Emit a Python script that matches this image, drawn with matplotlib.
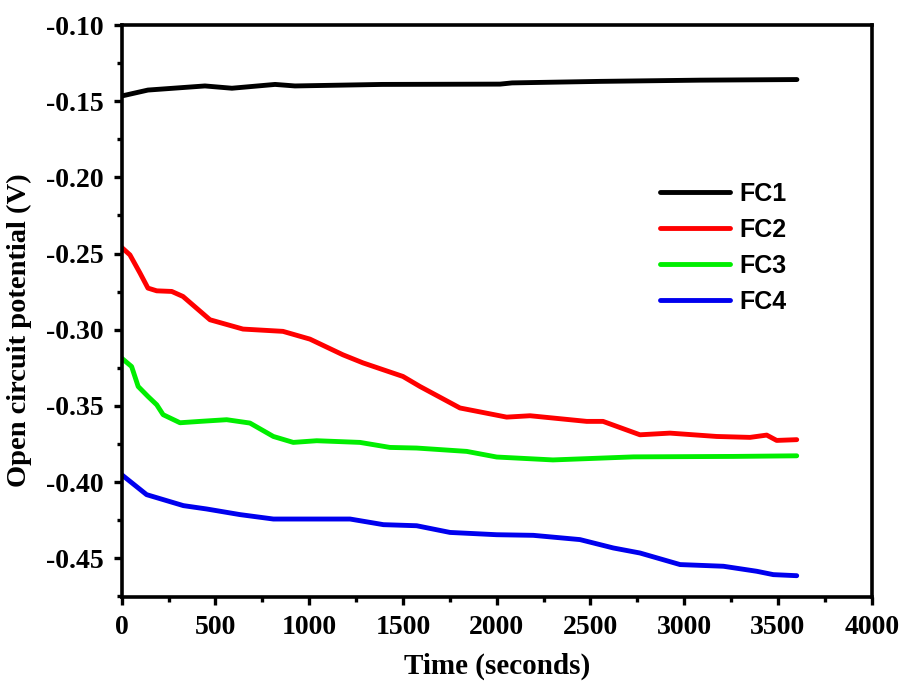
import numpy as np
import matplotlib
matplotlib.use("Agg")
import matplotlib.pyplot as plt
from matplotlib.ticker import MultipleLocator

# data (time in s, potential in V)
t1 = [0, 140, 444, 588, 818, 924, 1389, 2018, 2082, 2551, 3084, 3601]
fc1 = [-0.1466, -0.1427, -0.1400, -0.1415, -0.1390, -0.1400, -0.1390, -0.1388, -0.1380, -0.1370, -0.1362, -0.1358]

t2 = [0, 44, 98, 140, 187, 267, 327, 471, 647, 860, 1004, 1180, 1287, 1500, 1591,
      1804, 2053, 2178, 2480, 2567, 2764, 2924, 3173, 3351, 3440, 3493, 3600]
fc2 = [-0.2460, -0.2509, -0.2629, -0.2727, -0.2745, -0.2749, -0.2782, -0.2935, -0.2996,
       -0.3011, -0.3062, -0.3165, -0.3218, -0.3307, -0.3373, -0.3514, -0.3574, -0.3565,
       -0.3602, -0.3602, -0.3690, -0.3679, -0.3701, -0.3707, -0.3692, -0.3727, -0.3722]

t3 = [0, 53, 88, 140, 187, 221, 311, 418, 560, 684, 809, 915, 1040, 1271, 1431, 1573,
      1840, 2000, 2300, 2729, 3262, 3600]
fc3 = [-0.3187, -0.3242, -0.3373, -0.3438, -0.3493, -0.3558, -0.3611, -0.3602, -0.3591,
       -0.3613, -0.3701, -0.3740, -0.3729, -0.3740, -0.3773, -0.3777, -0.3799, -0.3836,
       -0.3855, -0.3835, -0.3832, -0.3828]

t4 = [0, 133, 329, 453, 631, 809, 1218, 1396, 1573, 1751, 2000, 2195, 2444, 2622, 2764,
      2978, 3209, 3387, 3475, 3600]
fc4 = [-0.3952, -0.4083, -0.4155, -0.4177, -0.4214, -0.4243, -0.4243, -0.4280, -0.4287,
       -0.4331, -0.4346, -0.4350, -0.4378, -0.4433, -0.4466, -0.4542, -0.4553, -0.4586,
       -0.4608, -0.4615]

series = [(t1, fc1, "black", "FC1"), (t2, fc2, "#ff0000", "FC2"),
          (t3, fc3, "#00ee00", "FC3"), (t4, fc4, "#0000ee", "FC4")]

serif = "Liberation Serif"

fig = plt.figure(figsize=(9.04, 6.91), dpi=100)
ax = fig.add_axes([0.1346, 0.136, 0.8297, 0.8278])

for t, v, c, lab in series:
    ax.plot(t, v, color=c, lw=3.5, label=lab, solid_capstyle="round", solid_joinstyle="round")

ax.set_xlim(0, 4000)
ax.set_ylim(-0.4755, -0.10)
ax.xaxis.set_major_locator(MultipleLocator(500))
ax.xaxis.set_minor_locator(MultipleLocator(250))
ax.yaxis.set_minor_locator(MultipleLocator(0.025))

for s in ax.spines.values():
    s.set_linewidth(2.6)
ax.tick_params(which="major", direction="out", length=6, width=2.4)
ax.tick_params(which="minor", direction="out", length=3.5, width=2.4)
ax.tick_params(axis="y", which="major", pad=7)
ax.tick_params(axis="x", which="major", pad=7)

yt = np.arange(-0.45, -0.0999, 0.05)
ax.set_yticks(yt)
ax.set_yticklabels(["%.2f" % v for v in yt])
for lbl in ax.get_xticklabels() + ax.get_yticklabels():
    lbl.set_fontfamily(serif)
    lbl.set_fontweight("bold")
    lbl.set_fontsize(20)

ax.set_xlabel("Time (seconds)", fontfamily=serif, fontweight="bold", fontsize=21, labelpad=9)
ax.set_ylabel("Open circuit potential (V)", fontfamily=serif, fontweight="bold", fontsize=20.5)
ax.yaxis.set_label_coords(-0.12, 0.467)

leg = ax.legend(loc="center left", bbox_to_anchor=(0.688, 0.61), frameon=False,
                prop={"family": "Liberation Sans", "weight": "bold", "size": 18},
                handlelength=2.8, handletextpad=0.35, labelspacing=0.48)

fig.savefig("out.png", dpi=100)
